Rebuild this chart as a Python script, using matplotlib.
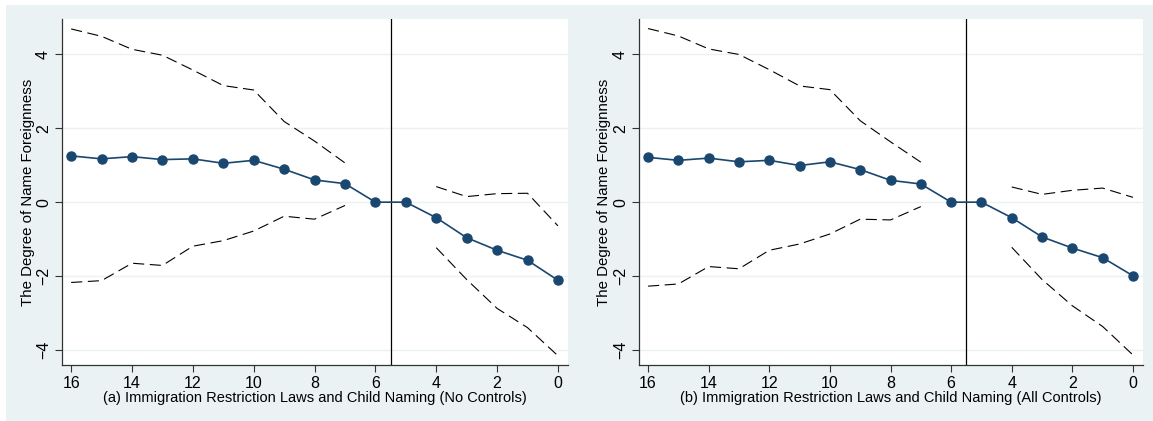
import numpy as np
import matplotlib
matplotlib.use("Agg")
from matplotlib import pyplot as plt
from matplotlib.patches import Rectangle

plt.rcParams['font.family'] = ['Liberation Sans', 'DejaVu Sans']

# years before the law
years = [16, 15, 14, 13, 12, 11, 10, 9, 8, 7, 6, 5, 4, 3, 2, 1, 0]
ci_years_pre = [16, 15, 14, 13, 12, 11, 10, 9, 8, 7]
ci_years_post = [4, 3, 2, 1, 0]

# (a) no controls
coef_a = [1.25, 1.17, 1.23, 1.15, 1.17, 1.05, 1.13, 0.89, 0.60, 0.50, 0, 0,
          -0.42, -0.96, -1.30, -1.57, -2.11]
upper_a_pre = [4.68, 4.48, 4.13, 3.97, 3.57, 3.15, 3.03, 2.18, 1.65, 1.06]
lower_a_pre = [-2.17, -2.12, -1.65, -1.71, -1.19, -1.04, -0.78, -0.38, -0.46, -0.09]
upper_a_post = [0.42, 0.15, 0.23, 0.24, -0.64]
lower_a_post = [-1.23, -2.09, -2.87, -3.39, -4.15]

# (b) all controls
coef_b = [1.21, 1.13, 1.19, 1.09, 1.13, 0.99, 1.09, 0.88, 0.59, 0.49, 0, 0,
          -0.42, -0.94, -1.24, -1.50, -1.99]
upper_b_pre = [4.69, 4.49, 4.14, 3.99, 3.58, 3.14, 3.04, 2.20, 1.63, 1.08]
lower_b_pre = [-2.27, -2.21, -1.74, -1.80, -1.30, -1.13, -0.86, -0.46, -0.48, -0.12]
upper_b_post = [0.41, 0.21, 0.32, 0.38, 0.13]
lower_b_post = [-1.22, -2.09, -2.80, -3.36, -4.13]

titles = ['(a) Immigration Restriction Laws and Child Naming (No Controls)',
          '(b) Immigration Restriction Laws and Child Naming (All Controls)']

bg = '#eaf2f3'
navy = '#1a476f'

fig = plt.figure(figsize=(11.53, 4.21), dpi=100, facecolor='white')
fig.patches.append(Rectangle((6 / 1153, 0), 1 - 6 / 1153, 1 - 5 / 421,
                             transform=fig.transFigure, facecolor=bg,
                             edgecolor='none', zorder=-10))

positions = [[0.0538, 0.133, 0.4388, 0.822], [0.5542, 0.133, 0.4371, 0.822]]
panels = [
    (coef_a, upper_a_pre, lower_a_pre, upper_a_post, lower_a_post),
    (coef_b, upper_b_pre, lower_b_pre, upper_b_post, lower_b_post),
]

for i in range(2):
    coef, up_pre, lo_pre, up_post, lo_post = panels[i]
    ax = fig.add_axes(positions[i])
    ax.set_facecolor('white')
    for y in [-4, -2, 0, 2, 4]:
        ax.axhline(y, color=bg, lw=1.0, zorder=1)
    for yy, xx in [(up_pre, ci_years_pre), (lo_pre, ci_years_pre),
                   (up_post, ci_years_post), (lo_post, ci_years_post)]:
        ax.plot(xx, yy, color='black', lw=0.8, ls=(0, (10, 5)), zorder=2)
    ax.axvline(5.5, color='black', lw=0.9, zorder=2)
    ax.plot(years, coef, color=navy, lw=1.2, marker='o', ms=6.5,
            markerfacecolor=navy, markeredgecolor=navy, zorder=3)

    ax.set_xlim(16.3, -0.33)
    ax.set_ylim(-4.4, 4.95)
    ax.set_xticks([16, 14, 12, 10, 8, 6, 4, 2, 0])
    ax.set_yticks([-4, -2, 0, 2, 4])
    ax.set_yticklabels(['\u22124', '\u22122', '0', '2', '4'], rotation=90, va='center')
    ax.tick_params(axis='both', direction='out', length=5, width=0.8,
                   labelsize=11.5, color='#333333')
    ax.tick_params(axis='y', pad=3)
    ax.tick_params(axis='x', pad=3)
    for s in ['top', 'right']:
        ax.spines[s].set_visible(False)
    for s in ['left', 'bottom']:
        ax.spines[s].set_color('#333333')
        ax.spines[s].set_linewidth(0.9)
    ax.set_ylabel('The Degree of Name Foreignness', fontsize=10.8, labelpad=1)
    ax.set_xlabel(titles[i], fontsize=10.5, labelpad=0)

fig.savefig('out.png', dpi=100, facecolor='white')
